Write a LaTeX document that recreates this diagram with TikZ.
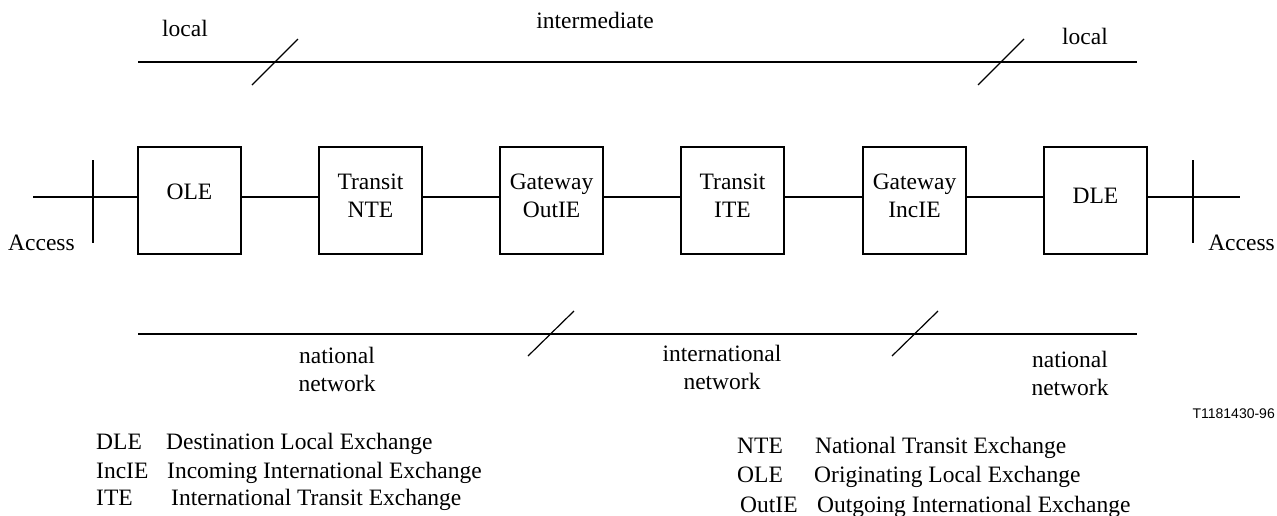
\documentclass[tikz,border=0pt]{standalone}
\usepackage{fontspec}
\setmainfont{Liberation Serif}
\newfontfamily\labelsans{Liberation Sans}
\tikzset{
  ln/.style={line width=1.2pt},
  exbox/.style={draw, line width=1.2pt, minimum width=103pt, minimum height=107pt, inner sep=0pt},
  btxt/.style={font=\fontsize{23.5}{28}\selectfont, inner sep=0pt, anchor=base},
  lbl/.style={font=\fontsize{23.5}{28}\selectfont, inner sep=0pt, align=center},
  leg/.style={font=\fontsize{23.5}{28}\selectfont, inner sep=0pt, anchor=base west},
}
\begin{document}
\begin{tikzpicture}[x=1pt,y=-1pt]
\useasboundingbox (0,0) rectangle (1277,515);
% top line
\coordinate (t1) at (138,62);
\coordinate (t2) at (1137,62);
\draw[ln] (t1) -- (t2);
\coordinate (s1a) at (252,85); \coordinate (s1b) at (298,39);
\draw[ln] (s1a) -- (s1b);
\coordinate (s2a) at (978,85); \coordinate (s2b) at (1024,39);
\draw[ln] (s2a) -- (s2b);
\node[lbl, anchor=base] (lloc) at (185,36) {local};
\node[lbl, anchor=base] (lint) at (595,28) {intermediate};
\node[lbl, anchor=base] (rloc) at (1085,44) {local};
% boxes
\node[exbox] (ole) at (189.5,200.5) {};
\node[exbox] (nte) at (370.5,200.5) {};
\node[exbox] (out) at (551.5,200.5) {};
\node[exbox] (ite) at (732.5,200.5) {};
\node[exbox] (inc) at (914.5,200.5) {};
\node[exbox] (dle) at (1095.5,200.5) {};
\node[btxt] (oleT) at ([yshift=1.5pt]ole.center) {OLE};
\node[btxt] (nteT1) at ([yshift=11.5pt]nte.center) {Transit};
\node[btxt] (nteT2) at ([yshift=-16.5pt]nte.center) {NTE};
\node[btxt] (outT1) at ([yshift=11.5pt]out.center) {Gateway};
\node[btxt] (outT2) at ([yshift=-16.5pt]out.center) {OutIE};
\node[btxt] (iteT1) at ([yshift=11.5pt]ite.center) {Transit};
\node[btxt] (iteT2) at ([yshift=-16.5pt]ite.center) {ITE};
\node[btxt] (incT1) at ([yshift=11.5pt]inc.center) {Gateway};
\node[btxt] (incT2) at ([yshift=-16.5pt]inc.center) {IncIE};
\node[btxt] (dleT) at ([yshift=-3pt]dle.center) {DLE};
\coordinate (al) at (33,197);
\coordinate (ar) at (1240,197);
\draw[ln] (al) -- (ole.west |- al);
\draw[ln] (ole.east |- al) -- (nte.west |- al);
\draw[ln] (nte.east |- al) -- (out.west |- al);
\draw[ln] (out.east |- al) -- (ite.west |- al);
\draw[ln] (ite.east |- al) -- (inc.west |- al);
\draw[ln] (inc.east |- al) -- (dle.west |- al);
\draw[ln] (dle.east |- al) -- (ar);
\coordinate (tl1) at (93,160); \coordinate (tl2) at (93,243);
\coordinate (tr1) at (1193,160); \coordinate (tr2) at (1193,243);
\draw[ln] (tl1) -- (tl2);
\draw[ln] (tr1) -- (tr2);
\node[lbl, anchor=base west] (accl) at (8,250) {Access};
\node[lbl, anchor=base east] (accr) at (1275,250) {Access};
% bottom line
\coordinate (b1) at (138,334);
\coordinate (b2) at (1137,334);
\draw[ln] (b1) -- (b2);
\coordinate (s3a) at (528,356); \coordinate (s3b) at (574,311);
\draw[ln] (s3a) -- (s3b);
\coordinate (s4a) at (892,356); \coordinate (s4b) at (938,311);
\draw[ln] (s4a) -- (s4b);
\node[lbl, anchor=north] (nn1) at (337,347) {national\\network};
\node[lbl, anchor=north] (inn) at (722,345) {international\\network};
\node[lbl, anchor=north] (nn2) at (1070,351) {national\\network};
\node[inner sep=0pt, anchor=base east, font=\labelsans\fontsize{14}{16}\selectfont] (fig) at (1275,418) {T1181430-96};
% legend
\node[leg] (k1) at (96,449) {DLE};
\node[leg] (d1) at (166,449) {Destination Local Exchange};
\node[leg] (k2) at (96,478) {IncIE};
\node[leg] (d2) at (167,478) {Incoming International Exchange};
\node[leg] (k3) at (96,505) {ITE};
\node[leg] (d3) at (171,505) {International Transit Exchange};
\node[leg] (k4) at (737,453) {NTE};
\node[leg] (d4) at (815,453) {National Transit Exchange};
\node[leg] (k5) at (737,482) {OLE};
\node[leg] (d5) at (814,482) {Originating Local Exchange};
\node[leg] (k6) at (740,512) {OutIE};
\node[leg] (d6) at (817,512) {Outgoing International Exchange};
\end{tikzpicture}
\end{document}
